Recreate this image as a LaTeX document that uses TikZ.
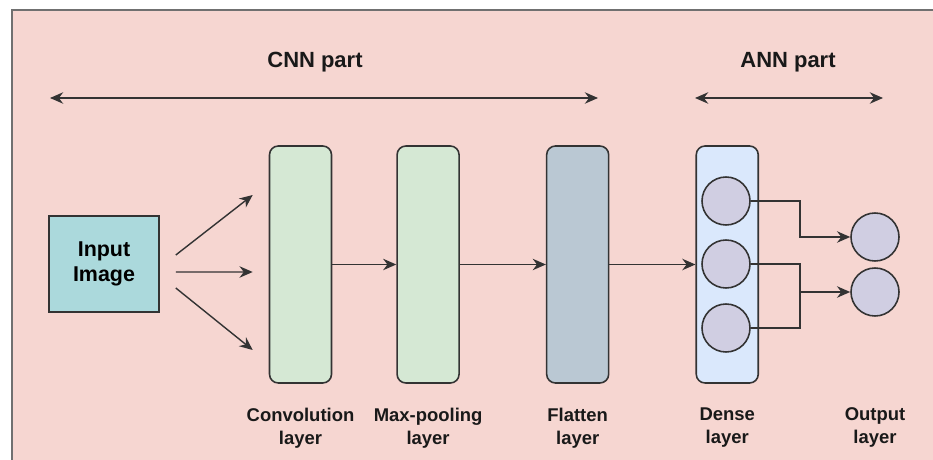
\documentclass[tikz,border=0pt]{standalone}
\usepackage{fontspec}
\setmainfont{Liberation Sans}
\usetikzlibrary{arrows.meta, positioning, calc}
\definecolor{bgpink}{HTML}{F6D6D1}
\definecolor{bgedge}{HTML}{707070}
\definecolor{inputcyan}{HTML}{ABD9DC}
\definecolor{convgreen}{HTML}{D5E8D4}
\definecolor{flatgray}{HTML}{BAC8D3}
\definecolor{denseblue}{HTML}{DAE8FC}
\definecolor{neuronlilac}{HTML}{D0CEE2}
\definecolor{linedark}{HTML}{333333}

\begin{document}
\begin{tikzpicture}[
    >={Stealth[length=7.5pt, width=6.5pt]},
    layer/.style={draw=linedark, line width=0.9pt, rounded corners=5pt, minimum width=1.24cm, minimum height=4.74cm, fill=#1},
    neuron/.style={circle, draw=linedark, line width=0.9pt, fill=neuronlilac, minimum size=0.96cm, inner sep=0pt},
    caption/.style={font=\bfseries\fontsize{10.5}{13}\selectfont, align=center, text=black!90},
    part/.style={font=\bfseries\fontsize{12.5}{15}\selectfont, text=black!90},
    flow/.style={->, line width=0.8pt, color=linedark},
    wire/.style={line width=0.8pt, color=linedark},
]

% Canvas
\useasboundingbox (0,0) rectangle (18.66,9.18);
\draw[fill=bgpink, draw=bgedge, line width=0.8pt] (0.24,-0.5) rectangle (19.2,8.98);

% Part headings
\node[part] (cnnlbl) at (6.30,7.94) {CNN part};
\coordinate (cnnl) at (1.00,7.22);
\coordinate (cnnr) at (11.96,7.22);
\draw[flow, <->] (cnnl) -- (cnnr);

\node[part] (annlbl) at (15.76,7.94) {ANN part};
\coordinate (annl) at (13.90,7.22);
\coordinate (annr) at (17.66,7.22);
\draw[flow, <->] (annl) -- (annr);

% Input
\node[draw=linedark, line width=0.9pt, fill=inputcyan, minimum width=2.2cm, minimum height=1.92cm,
      align=center, font=\bfseries\fontsize{12.2}{14.5}\selectfont] (input) at (2.08,3.90) {Input\\Image};

% CNN layers
\node[layer=convgreen] (conv) at (6.01,3.89) {};
\node[layer=convgreen, right=1.28cm of conv] (pool) {};
\node[layer=flatgray, right=1.72cm of pool] (flat) {};
\node[layer=denseblue, right=1.72cm of flat] (dense) {};

\draw[flow] ([xshift=0.32cm, yshift=0.18cm]input.east) -- ([xshift=-0.32cm, yshift=1.39cm]conv.west);
\draw[flow] ([xshift=0.32cm, yshift=-0.16cm]input.east) -- ([xshift=-0.32cm, yshift=-0.15cm]conv.west);
\draw[flow] ([xshift=0.32cm, yshift=-0.48cm]input.east) -- ([xshift=-0.32cm, yshift=-1.71cm]conv.west);

\draw[flow] (conv.east) -- (pool.west);
\draw[flow] (pool.east) -- (flat.west);
\draw[flow] (flat.east) -- (dense.west);

% Neurons
\node[neuron] (d1) at (14.52,5.16) {};
\node[neuron] (d2) at (14.52,3.90) {};
\node[neuron] (d3) at (14.52,2.62) {};
\node[neuron] (o1) at (17.50,4.44) {};
\node[neuron] (o2) at (17.50,3.34) {};

\coordinate (ja) at (16.00,4.44);
\coordinate (jb) at (16.00,3.34);
\draw[flow] (d1.east) -| (ja) -- (o1.west);
\draw[wire] (d2.east) -| (jb);
\draw[wire] (d3.east) -| (jb);
\draw[flow] (jb) -- (o2.west);

% Captions
\node[caption, below=0.36cm of conv] (convlbl) {Convolution\\layer};
\node[caption, below=0.36cm of pool] (poollbl) {Max-pooling\\layer};
\node[caption, below=0.36cm of flat] (flatlbl) {Flatten\\layer};
\node[caption, below=0.36cm of dense] (denselbl) {Dense\\layer};
\node[caption, anchor=north] (outlbl) at (o2 |- denselbl.north) {Output\\layer};

\end{tikzpicture}
\end{document}
